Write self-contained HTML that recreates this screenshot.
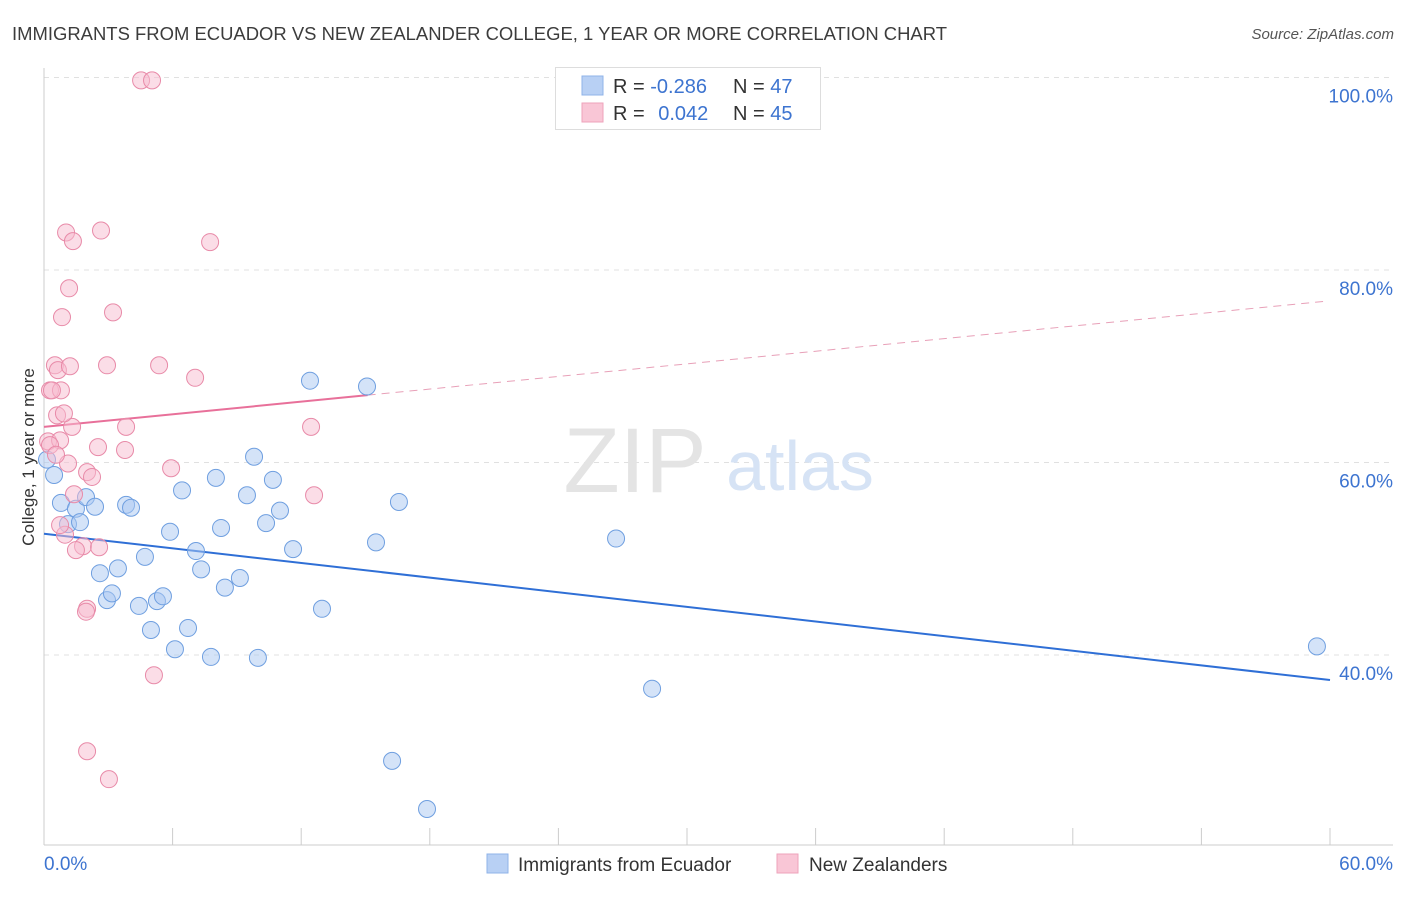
<!DOCTYPE html>
<html><head><meta charset="utf-8"><style>
body{margin:0;background:#fff;font-family:"Liberation Sans",sans-serif;}
svg text{font-family:"Liberation Sans",sans-serif;}
</style></head><body>
<svg width="1406" height="892" viewBox="0 0 1406 892" xmlns="http://www.w3.org/2000/svg">
<text x="12" y="40" font-size="18" fill="#3c3c3c" textLength="935" lengthAdjust="spacingAndGlyphs">IMMIGRANTS FROM ECUADOR VS NEW ZEALANDER COLLEGE, 1 YEAR OR MORE CORRELATION CHART</text>
<text x="1394" y="39" font-size="15" fill="#555" font-style="italic" text-anchor="end">Source: ZipAtlas.com</text>
<g id="grid"></g>
<g id="watermark">
<text x="635" y="492" font-size="92" fill="#e4e4e4" font-family="Liberation Serif" text-anchor="middle">ZIP</text>
<text x="800" y="490" font-size="70" fill="#d6e3f5" text-anchor="middle">atlas</text>
</g>
<g id="axes"></g>
<g id="trend"></g>
<g id="pts"></g>
<text transform="translate(34,457) rotate(-90)" font-size="17" fill="#333" text-anchor="middle">College, 1 year or more</text>
<g>
<rect x="555.5" y="67.5" width="265" height="62" fill="#fff" stroke="#ddd"/>
<rect x="582" y="76" width="21" height="19" fill="#b8d0f4" stroke="#8fb3e8"/>
<rect x="582" y="103" width="21" height="19" fill="#f9c6d6" stroke="#eea3bb"/>
<text x="613" y="93" font-size="20" fill="#333">R = <tspan fill="#3d74d0">-0.286</tspan></text>
<text x="733" y="93" font-size="20" fill="#333">N = <tspan fill="#3d74d0">47</tspan></text>
<text x="613" y="120" font-size="20" fill="#333">R = <tspan fill="#3d74d0" dx="8">0.042</tspan></text>
<text x="733" y="120" font-size="20" fill="#333">N = <tspan fill="#3d74d0">45</tspan></text>
</g>
<g>
<rect x="487" y="854" width="21" height="19" fill="#b8d0f4" stroke="#8fb3e8"/>
<text x="518" y="871" font-size="19" fill="#333">Immigrants from Ecuador</text>
<rect x="777" y="854" width="21" height="19" fill="#f9c6d6" stroke="#eea3bb"/>
<text x="809" y="871" font-size="19" fill="#333">New Zealanders</text>
</g>
</svg>
<script>
const blueX=[0.47,0.79,1.49,1.96,2.38,1.12,1.68,2.61,3.45,2.94,3.17,4.43,4.71,3.83,4.06,4.99,5.27,5.55,5.88,6.11,6.44,6.72,7.09,7.33,7.79,8.02,8.26,8.44,9.14,9.47,9.80,9.98,10.36,10.68,11.01,11.62,12.41,12.97,15.07,15.49,16.24,16.56,17.87,26.69,28.37,59.39,0.14];
const blueY=[58.7,55.8,55.2,56.4,55.4,53.6,53.8,48.5,49.0,45.7,46.4,45.1,50.2,55.6,55.3,42.6,45.6,46.1,52.8,40.6,57.1,42.8,50.8,48.9,39.8,58.4,53.2,47.0,48.0,56.6,60.6,39.7,53.7,58.2,55.0,51.0,68.5,44.8,67.9,51.7,29.0,55.9,24.0,52.1,36.5,40.9,60.3];
const pinkX=[4.53,5.04,1.03,1.35,2.66,7.75,1.17,0.84,3.22,0.51,0.65,1.21,2.94,5.37,7.05,0.28,0.79,0.61,1.31,3.83,12.46,0.19,0.75,2.52,3.78,1.12,5.93,2.01,2.24,1.40,12.60,0.98,1.82,2.57,1.49,2.01,1.96,5.13,2.01,3.03,0.28,0.37,0.93,0.75,0.56];
const pinkY=[99.7,99.7,83.9,83.0,84.1,82.9,78.1,75.1,75.6,70.1,69.6,70.0,70.1,70.1,68.8,67.5,67.5,64.9,63.7,63.7,63.7,62.2,62.3,61.6,61.3,59.9,59.4,59.0,58.5,56.7,56.6,52.5,51.3,51.2,50.9,44.8,44.5,37.9,30.0,27.1,61.8,67.5,65.1,53.5,60.8];
const yTicks=[40,60,80,100];
const yTickLabels=["40.0%","60.0%","80.0%","100.0%"];
const xTicks=[0,6,12,18,24,30,36,42,48,54,60];
const xTickLabels=["0.0%","60.0%"];
const blueTrend=[52.6,37.4];
const pinkTrend=[63.7,76.8];
const pinkSolidEnd=15.1;

const X=v=>44+v*1286/60;
const Y=v=>655-(v-40)*9.625;
const NS="http://www.w3.org/2000/svg";
function mk(tag,attrs,parent){const e=document.createElementNS(NS,tag);for(const k in attrs)e.setAttribute(k,attrs[k]);parent.appendChild(e);return e;}
const grid=document.getElementById('grid'),axes=document.getElementById('axes'),trend=document.getElementById('trend'),pts=document.getElementById('pts');
yTicks.forEach((t,i)=>{
 const l=mk('line',{x1:44,x2:1393,y1:Y(t),y2:Y(t),stroke:'#e0e0e0','stroke-dasharray':'5,5'},grid);
 
 
 const tx=mk('text',{x:1393,y:Y(t)+25,'font-size':19,fill:'#3d74d0','text-anchor':'end'},grid);
 tx.textContent=yTickLabels[i];
 
 
});
const al=mk('line',{x1:44,x2:44,y1:68,y2:845,stroke:'#ccc'},axes);


const bl=mk('line',{x1:44,x2:1393,y1:845,y2:845,stroke:'#ccc'},axes);


xTicks.forEach(t=>{
 const l=mk('line',{x1:X(t),x2:X(t),y1:828,y2:845,stroke:'#ccc'},axes);
 
 
});
[[0,'start',44],[60,'end',1393]].forEach((d,i)=>{
 const tx=mk('text',{x:d[2],y:870,'font-size':19,fill:'#3d74d0','text-anchor':d[1]},axes);
 tx.textContent=xTickLabels[i];
 
 
});
function drawPts(xs,ys,fill,stroke,name){
 xs.forEach((x,i)=>{
  const c=mk('circle',{cx:X(x),cy:Y(ys[i]),r:8.5,fill:fill,'fill-opacity':0.5,stroke:stroke,'stroke-width':1},pts);
  
  
 });
}
drawPts(blueX,blueY,'#a9c8f2','#6f9fe0','ecuador-point');
drawPts(pinkX,pinkY,'#f7bcd0','#e88aa8','nz-point');
const bt=mk('line',{x1:X(0),y1:Y(blueTrend[0]),x2:X(60),y2:Y(blueTrend[1]),stroke:'#2f6fd6','stroke-width':2},trend);


const pAt=x=>pinkTrend[0]+(pinkTrend[1]-pinkTrend[0])*x/60;
const ps=mk('line',{x1:X(0),y1:Y(pinkTrend[0]),x2:X(pinkSolidEnd),y2:Y(pAt(pinkSolidEnd)),stroke:'#e8709a','stroke-width':2},trend);


const pd=mk('line',{x1:X(pinkSolidEnd),y1:Y(pAt(pinkSolidEnd)),x2:X(59.9),y2:Y(pAt(59.9)),stroke:'#e8a0b8','stroke-width':1,'stroke-dasharray':'8,6'},trend);


</script>
</body></html>
